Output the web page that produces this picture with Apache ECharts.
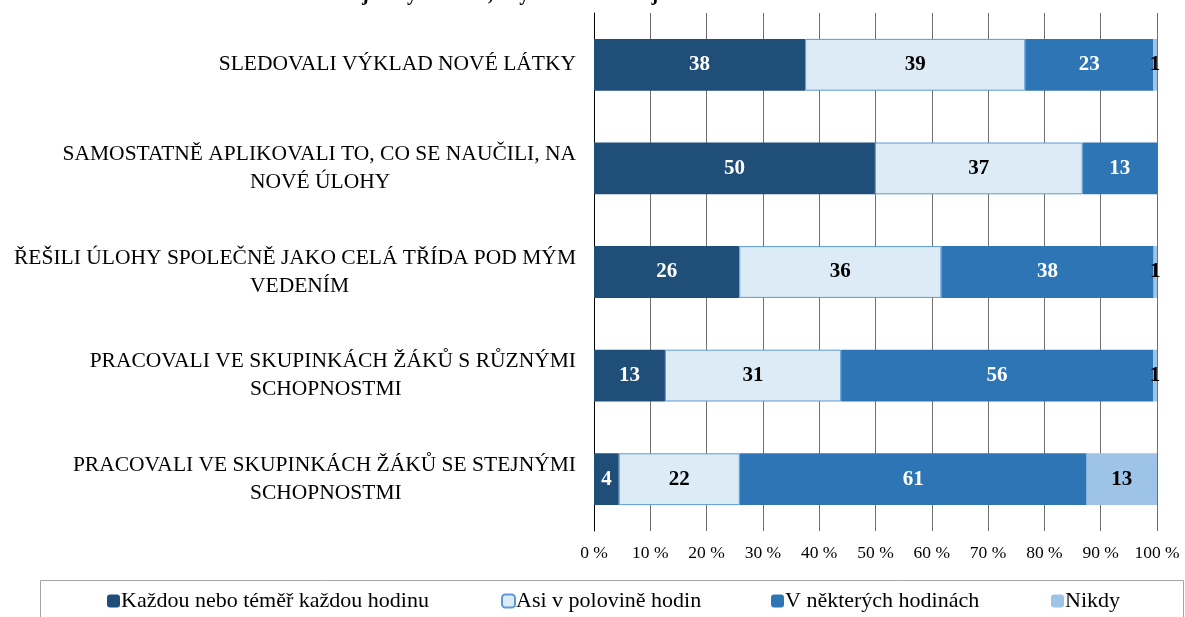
<!DOCTYPE html>
<html>
<head>
<meta charset="utf-8">
<script src="https://cdn.jsdelivr.net/npm/echarts@6/dist/echarts.min.js"></script>
<style>html,body{margin:0;padding:0;background:#fff}#c{width:1185px;height:617px}</style>
</head>
<body>
<div id="c"></div>
<script>
const categories = [
  "SLEDOVALI VÝKLAD NOVÉ LÁTKY",
  "SAMOSTATNĚ APLIKOVALI TO, CO SE NAUČILI, NA\nNOVÉ ÚLOHY",
  "ŘEŠILI ÚLOHY SPOLEČNĚ JAKO CELÁ TŘÍDA POD MÝM\nVEDENÍM",
  "PRACOVALI VE SKUPINKÁCH ŽÁKŮ S RŮZNÝMI\nSCHOPNOSTMI",
  "PRACOVALI VE SKUPINKÁCH ŽÁKŮ SE STEJNÝMI\nSCHOPNOSTMI"
];
const seriesNames = ["Každou nebo téměř každou hodinu", "Asi v polovině hodin", "V některých hodinách", "Nikdy"];
// segment widths (percent)
const valKazdou = [37.5, 49.9, 25.8, 12.6, 4.4];
const valPolovina = [39.1, 36.9, 35.9, 31.3, 21.5];
const valNekterych = [22.7, 13.2, 37.7, 55.4, 61.6];
const valNikdy = [0.7, 0, 0.7, 0.7, 12.5];
// printed labels
const lblKazdou = [38, 50, 26, 13, 4];
const lblPolovina = [39, 37, 36, 31, 22];
const lblNekterych = [23, 13, 38, 56, 61];
const lblNikdy = [1, null, 1, 1, 13];
const xTicks = [0, 10, 20, 30, 40, 50, 60, 70, 80, 90, 100];
const titleText = "jste vyžadovali, aby dělali následující činnosti.";

const FONT = "'Liberation Serif', 'Times New Roman', serif";
const colors = ["#1F4E79", "#DDEBF7", "#2E75B6", "#9DC3E6"];
const labelColors = ["#fff", "#000", "#fff", "#000"];
const vals = [valKazdou, valPolovina, valNekterych, valNikdy];
const lbls = [lblKazdou, lblPolovina, lblNekterych, lblNikdy];

const chart = echarts.init(document.getElementById('c'));
const series = seriesNames.map((name, i) => ({
  name: name,
  type: 'bar',
  stack: 'all',
  barWidth: '50%',
  data: vals[i],
  itemStyle: { color: colors[i], borderColor: i === 1 ? '#5B9BD5' : colors[i], borderWidth: i === 1 ? 1 : 0 },
  label: {
    show: true,
    position: 'inside',
    color: labelColors[i],
    fontFamily: FONT,
    fontWeight: 'bold',
    fontSize: 21,
    formatter: p => (lbls[i][p.dataIndex] == null ? '' : String(lbls[i][p.dataIndex]))
  },
  emphasis: { disabled: true }
}));

const legendLefts = [107, 501, 771, 1051];
const legends = seriesNames.map((n, i) => ({
  data: [n],
  left: legendLefts[i],
  top: 590,
  itemWidth: 13,
  itemHeight: 13,
  itemGap: 0,
  padding: 0,
  selectedMode: false,
  textStyle: { fontFamily: FONT, fontSize: 22, color: '#000', padding: [0, 0, 0, -4] }
}));

chart.setOption({
  animation: false,
  title: {
    text: titleText,
    left: 362,
    top: -15,
    padding: 0,
    textStyle: { fontFamily: FONT, fontSize: 20, fontWeight: 'bold', color: '#000' }
  },
  grid: { left: 594, right: 28, top: 13, bottom: 86, containLabel: false },
  legend: legends,
  xAxis: {
    type: 'value',
    min: 0,
    max: 100,
    interval: 10,
    axisLine: { show: false },
    axisTick: { show: false },
    splitLine: { show: true, lineStyle: { color: '#6f6f6f', width: 1 } },
    axisLabel: {
      margin: 13,
      fontFamily: FONT,
      fontSize: 17.5,
      color: '#000',
      formatter: v => (xTicks.indexOf(v) >= 0 ? v + ' %' : '')
    }
  },
  yAxis: {
    type: 'category',
    inverse: true,
    data: categories,
    axisLine: { show: true, lineStyle: { color: '#000', width: 1 } },
    axisTick: { show: false },
    axisLabel: {
      margin: 344,
      align: 'left',
      fontFamily: FONT,
      fontSize: 21.5,
      color: '#000',
      lineHeight: 28,
      formatter: v => {
        const parts = v.split('\n');
        if (parts.length === 1) return '{a|' + parts[0] + '}';
        return '{a|' + parts[0] + '}\n{b|' + parts[1] + '}';
      },
      rich: {
        a: { fontFamily: FONT, fontSize: 21.5, color: '#000', lineHeight: 28, width: 326, align: 'right' },
        b: { fontFamily: FONT, fontSize: 21.5, color: '#000', lineHeight: 28, align: 'left' }
      }
    }
  },
  graphic: [{
    type: 'rect',
    left: 38,
    top: 578,
    shape: { x: 0, y: 0, width: 1143, height: 60 },
    style: { fill: 'none', stroke: '#a6a6a6', lineWidth: 1 },
    silent: true
  }],
  series: series
});
</script>
</body>
</html>
